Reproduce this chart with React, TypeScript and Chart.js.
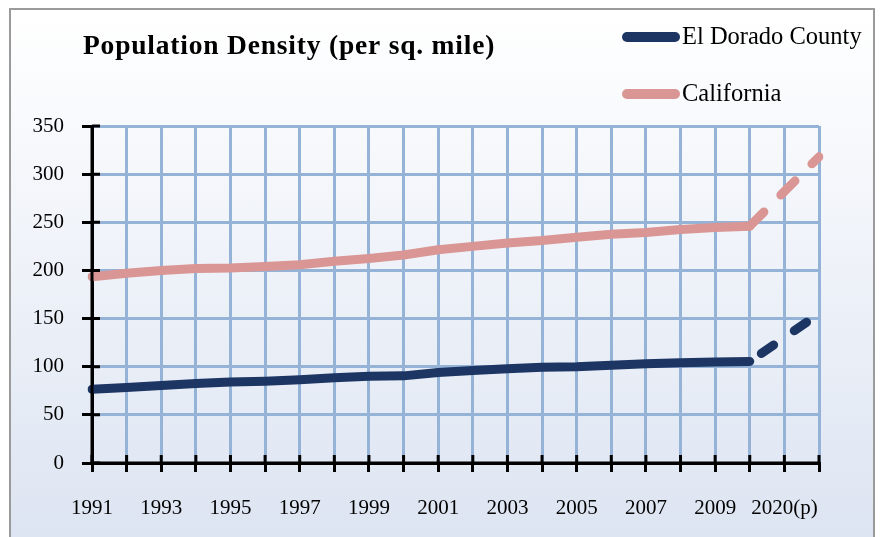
import React, { useEffect, useRef } from 'react';
import { Chart, registerables } from 'chart.js';

Chart.register(...registerables);

// Categories (every other label is shown on the axis)
const categories = [
  '1991', '1992', '1993', '1994', '1995', '1996', '1997', '1998', '1999', '2000',
  '2001', '2002', '2003', '2004', '2005', '2006', '2007', '2008', '2009', '2010',
  '2020(p)', '',
];

const elDorado = [
  76.5, 78.5, 80.5, 82.5, 84, 85, 86.5, 88.5, 90, 90.5,
  94, 96, 98, 99.5, 100, 101.5, 103, 104, 105, 105.5,
  null, 155,
];

const california = [
  193.5, 197, 200, 202, 202.5, 204, 206, 209.5, 212.5, 216,
  221.5, 225, 228.5, 231, 234.5, 237.5, 239.5, 242.5, 244.5, 246,
  null, 318,
];

const yMin = 0;
const yMax = 350;
const yStep = 50;

const titleText = 'Population Density (per sq. mile)';
const lastActualIndex = 19;

const FONT = "'Liberation Serif', 'Times New Roman', serif";
const GRID = '#95b3d7';
const NAVY = '#1c3563';
const PINK = '#d99694';

const decorPlugin = {
  id: 'decor',
  afterDatasetsDraw(chart: any) {
    const { ctx, chartArea } = chart;
    const x = chart.scales.x;
    const y = chart.scales.y;
    ctx.save();
    ctx.strokeStyle = '#000';
    ctx.lineWidth = 3;
    ctx.lineCap = 'butt';
    // axis lines on top
    ctx.beginPath();
    ctx.moveTo(chartArea.left, chartArea.top);
    ctx.lineTo(chartArea.left, chartArea.bottom);
    ctx.moveTo(chartArea.left, chartArea.bottom);
    ctx.lineTo(chartArea.right, chartArea.bottom);
    ctx.stroke();
    // inner parts of tick marks
    ctx.beginPath();
    y.ticks.forEach((t: any) => {
      const py = y.getPixelForValue(t.value);
      ctx.moveTo(chartArea.left, py);
      ctx.lineTo(chartArea.left + 8, py);
    });
    categories.forEach((_c, i) => {
      const px = x.getPixelForValue(i);
      ctx.moveTo(px, chartArea.bottom);
      ctx.lineTo(px, chartArea.bottom - 8);
    });
    ctx.stroke();
    ctx.restore();
  },
  afterDraw(chart: any) {
    const { ctx } = chart;
    ctx.save();
    // title
    ctx.fillStyle = '#000';
    ctx.font = `bold 27.5px ${FONT}`;
    (ctx as any).letterSpacing = '0.8px';
    ctx.textAlign = 'left';
    ctx.textBaseline = 'middle';
    ctx.fillText(titleText, 83, 47);
    (ctx as any).letterSpacing = '0px';
    // legend
    const rows = [37, 94];
    chart.data.datasets.forEach((ds: any, i: number) => {
      const ry = rows[i];
      ctx.strokeStyle = ds.borderColor;
      ctx.lineWidth = 10;
      ctx.lineCap = 'round';
      ctx.beginPath();
      ctx.moveTo(627, ry);
      ctx.lineTo(675, ry);
      ctx.stroke();
      ctx.fillStyle = '#000';
      ctx.font = `24.5px ${FONT}`;
      ctx.textBaseline = 'middle';
      ctx.fillText(ds.label, 682, ry + 1);
    });
    ctx.restore();
  },
};

export default function App() {
  const ref = useRef<HTMLCanvasElement>(null);

  useEffect(() => {
    if (!ref.current) return;
    const dashed = (pattern: number[]) => (ctx: any) =>
      ctx.p1DataIndex > lastActualIndex ? pattern : undefined;

    const chart = new Chart(ref.current, {
      type: 'line',
      data: {
        labels: categories,
        datasets: [
          {
            label: 'El Dorado County',
            data: elDorado,
            borderColor: NAVY,
            backgroundColor: NAVY,
            borderWidth: 9,
            pointRadius: 0,
            borderCapStyle: 'round',
            borderJoinStyle: 'round',
            spanGaps: true,
            segment: {
              borderDash: dashed([15, 25]),
              borderDashOffset: (ctx: any) => (ctx.p1DataIndex > lastActualIndex ? 26 : 0),
            },
          } as any,
          {
            label: 'California',
            data: california,
            borderColor: PINK,
            backgroundColor: PINK,
            borderWidth: 9,
            pointRadius: 0,
            borderCapStyle: 'round',
            borderJoinStyle: 'round',
            spanGaps: true,
            segment: {
              borderDash: dashed([20, 24]),
            },
          } as any,
        ],
      },
      options: {
        responsive: false,
        animation: false,
        devicePixelRatio: 1,
        layout: { padding: { top: 126, right: 61, bottom: 14, left: 0 } },
        plugins: {
          legend: { display: false },
          title: { display: false },
          tooltip: { enabled: false },
        },
        scales: {
          x: {
            type: 'category',
            offset: false,
            grid: {
              color: GRID,
              lineWidth: 3,
              tickColor: '#000',
              tickLength: 9,
              tickWidth: 3,
            } as any,
            border: { color: '#000', width: 3 },
            ticks: {
              autoSkip: false,
              maxRotation: 0,
              padding: 24,
              color: '#000',
              font: { family: FONT, size: 21 },
              callback: (_v: any, i: number) => (i % 2 === 0 ? categories[i] : ''),
            },
            afterFit: (s: any) => {
              s.height = 60;
            },
          },
          y: {
            min: yMin,
            max: yMax,
            grid: {
              color: GRID,
              lineWidth: 3,
              tickColor: '#000',
              tickLength: 10,
              tickWidth: 3,
            } as any,
            border: { color: '#000', width: 3 },
            ticks: {
              stepSize: yStep,
              padding: 18,
              color: '#000',
              font: { family: FONT, size: 21 },
            },
            afterFit: (s: any) => {
              s.width = 92;
            },
          },
        },
      },
      plugins: [decorPlugin],
    });
    return () => chart.destroy();
  }, []);

  return (
    <div style={{ position: 'fixed', left: 0, top: 0, width: 880, height: 537, overflow: 'hidden' }}>
      <div
        style={{
          position: 'absolute',
          left: 9,
          top: 8,
          width: 862,
          height: 560,
          border: '2px solid #9a9a9a',
          background: 'linear-gradient(#ffffff, #dbe3f1)',
        }}
      />
      <canvas
        ref={ref}
        width={880}
        height={537}
        style={{ position: 'absolute', left: 0, top: 0, width: 880, height: 537 }}
      />
    </div>
  );
}
